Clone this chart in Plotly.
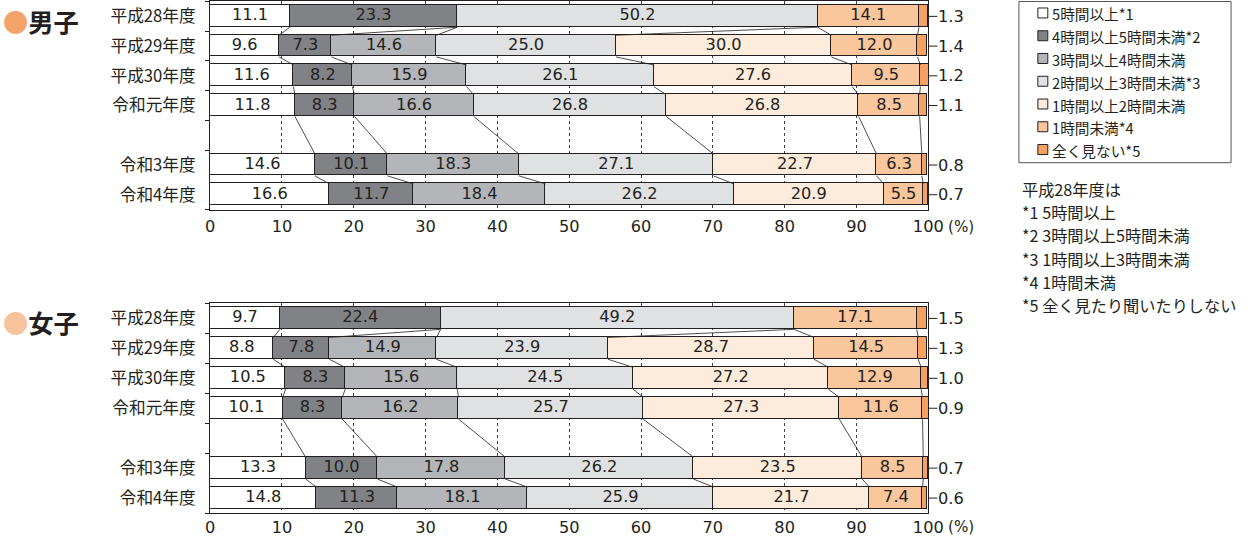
import plotly.graph_objects as go

W, H = 1248, 537          # target picture size
S = 1263 / 1248           # horizontal compensation for the capture scaling
FW, FH = 1263, 537        # figure size in CSS px

rows = ["平成28年度", "平成29年度", "平成30年度", "令和元年度", "", "令和3年度", "令和4年度"]
ticks_x = [0, 10, 20, 30, 40, 50, 60, 70, 80, 90, 100]

cat_names = ["5時間以上*1", "4時間以上5時間未満*2", "3時間以上4時間未満", "2時間以上3時間未満*3",
             "1時間以上2時間未満", "1時間未満*4", "全く見ない*5"]
cat_colors = ["#FFFFFF", "#818285", "#B4B5B8", "#E0E1E3", "#FDEBDB", "#FAC69C", "#F4A163"]

# 男子 (boys)
boys_5plus = [11.1, 9.6, 11.6, 11.8, None, 14.6, 16.6]
boys_4to5 = [23.3, 7.3, 8.2, 8.3, None, 10.1, 11.7]
boys_3to4 = [None, 14.6, 15.9, 16.6, None, 18.3, 18.4]
boys_2to3 = [50.2, 25.0, 26.1, 26.8, None, 27.1, 26.2]
boys_1to2 = [None, 30.0, 27.6, 26.8, None, 22.7, 20.9]
boys_lt1 = [14.1, 12.0, 9.5, 8.5, None, 6.3, 5.5]
boys_none = [1.3, 1.4, 1.2, 1.1, None, 0.8, 0.7]

# 女子 (girls)
girls_5plus = [9.7, 8.8, 10.5, 10.1, None, 13.3, 14.8]
girls_4to5 = [22.4, 7.8, 8.3, 8.3, None, 10.0, 11.3]
girls_3to4 = [None, 14.9, 15.6, 16.2, None, 17.8, 18.1]
girls_2to3 = [49.2, 23.9, 24.5, 25.7, None, 26.2, 25.9]
girls_1to2 = [None, 28.7, 27.2, 27.3, None, 23.5, 21.7]
girls_lt1 = [17.1, 14.5, 12.9, 11.6, None, 8.5, 7.4]
girls_none = [1.5, 1.3, 1.0, 0.9, None, 0.7, 0.6]

notes = ["平成28年度は", "*1 5時間以上", "*2 3時間以上5時間未満", "*3 1時間以上3時間未満",
         "*4 1時間未満", "*5 全く見たり聞いたりしない"]

boys = [boys_5plus, boys_4to5, boys_3to4, boys_2to3, boys_1to2, boys_lt1, boys_none]
girls = [girls_5plus, girls_4to5, girls_3to4, girls_2to3, girls_1to2, girls_lt1, girls_none]

INK = "#231F20"
NUMFONT = "DejaVu Sans"
JPFONT = "Noto Sans CJK JP"
BW = 0.73
ypos = list(range(len(rows)))


def s(v):
    return v * S


fig = go.Figure()


def add_group(series, xa, ya):
    n = len(rows)
    for k, vals in enumerate(series):
        fig.add_trace(go.Bar(
            x=vals, y=ypos, orientation="h", width=BW,
            marker=dict(color=cat_colors[k], line=dict(color=INK, width=1)),
            xaxis=xa, yaxis=ya, showlegend=False, hoverinfo="x",
        ))
    cums = []
    for i in range(n):
        if series[0][i] is None:
            cums.append(None)
            continue
        c, lst = 0.0, []
        for k in range(len(series)):
            v = series[k][i]
            start = c
            c += (v or 0)
            lst.append((start, c, v))
        cums.append(lst)
    tx, ty, tt = [], [], []
    for i in range(n):
        if cums[i] is None:
            continue
        for k in range(len(series) - 1):
            st, e, v = cums[i][k]
            if v is None:
                continue
            tx.append((st + e) / 2)
            ty.append(i)
            tt.append(f"{v:.1f}")
    fig.add_trace(go.Scatter(
        x=tx, y=ty, text=tt, mode="text", textposition="middle center",
        textfont=dict(family=NUMFONT, size=s(16), color=INK),
        xaxis=xa, yaxis=ya, showlegend=False, hoverinfo="skip", cliponaxis=False,
    ))
    present = [i for i in range(n) if cums[i] is not None]
    lx, ly = [], []
    for a, b in zip(present[:-1], present[1:]):
        for k in range(len(series) - 1):
            lx += [cums[a][k][1], cums[b][k][1], None]
            ly += [a + BW / 2, b - BW / 2, None]
    fig.add_trace(go.Scatter(
        x=lx, y=ly, mode="lines", line=dict(color=INK, width=0.8),
        xaxis=xa, yaxis=ya, showlegend=False, hoverinfo="skip",
    ))
    for i in range(n):
        v = series[-1][i]
        if v is None:
            continue
        fig.add_annotation(
            x=100, y=i, xref=xa, yref=ya, text=f"{v:.1f}", showarrow=True,
            arrowhead=0, arrowwidth=1, arrowcolor=INK, ax=s(9), ay=0, xanchor="left",
            font=dict(family=NUMFONT, size=s(16), color=INK), borderpad=0,
        )


add_group(boys, "x", "y")
add_group(girls, "x2", "y2")

xdom = [206 / W, 927 / W]
xcommon = dict(
    domain=xdom, range=[0, 100], tickvals=ticks_x, ticktext=[str(t) for t in ticks_x],
    showgrid=True, gridcolor="#444", gridwidth=1, griddash="3px,3px",
    showline=True, mirror=True, linecolor=INK, linewidth=1.2, zeroline=False,
    ticks="",
    tickfont=dict(family=NUMFONT, size=s(16), color=INK), fixedrange=True,
)
ycommon = dict(
    range=[6.5, -0.5], tickvals=ypos, ticktext=rows, ticks="",
    showgrid=False, showline=True, mirror=True, linecolor=INK, linewidth=1.2,
    zeroline=False, ticklabelstandoff=10,
    tickfont=dict(family=JPFONT, size=s(16.5), color=INK),
    minor=dict(ticks="outside", tickmode="array", tickvals=[-0.5, 0.5, 1.5, 2.5, 3.5, 4.5, 6.5],
               ticklen=4, tickcolor=INK, showgrid=False),
    fixedrange=True,
)

fig.update_layout(
    width=FW, height=FH, autosize=False, margin=dict(l=0, r=0, t=0, b=0),
    paper_bgcolor="white", plot_bgcolor="white", barmode="stack", bargap=0,
    showlegend=False,
    xaxis=dict(anchor="y", ticklabelstandoff=2, **xcommon),
    yaxis=dict(anchor="x", domain=[1 - 209 / H, 1 - 0.5 / H], **ycommon),
    xaxis2=dict(anchor="y2", ticklabelstandoff=-1, **xcommon),
    yaxis2=dict(anchor="x2", domain=[1 - 513 / H, 1 - 303 / H], **ycommon),
)


def px(xp):
    return xp / W


def py(yp):
    return 1 - yp / H


fig.add_annotation(x=px(-4), y=py(20), xref="paper", yref="paper", xanchor="left", yanchor="middle",
                   showarrow=False, text="<span style='color:#F4A46A'>●</span><b>男子</b>",
                   font=dict(family=JPFONT, size=s(25), color=INK))
fig.add_annotation(x=px(-4), y=py(322), xref="paper", yref="paper", xanchor="left", yanchor="middle",
                   showarrow=False, text="<span style='color:#F8C39C'>●</span><b>女子</b>",
                   font=dict(family=JPFONT, size=s(25), color=INK))

for yy in (226, 527):
    fig.add_annotation(x=px(945), y=py(yy), xref="paper", yref="paper", xanchor="left", yanchor="middle",
                       showarrow=False, text="(%)", font=dict(family=NUMFONT, size=s(15), color=INK))

fig.add_shape(type="rect", xref="paper", yref="paper", x0=px(1018), x1=px(1231), y0=py(162), y1=py(0.5),
              line=dict(color="#555", width=1), fillcolor="rgba(0,0,0,0)")
for k, name in enumerate(cat_names):
    yc = 12 + 22.8 * k
    fig.add_shape(type="rect", xref="paper", yref="paper", x0=px(1037), x1=px(1047),
                  y0=py(yc + 5), y1=py(yc - 5), line=dict(color=INK, width=1), fillcolor=cat_colors[k])
    fig.add_annotation(x=px(1049), y=py(yc + 1), xref="paper", yref="paper", xanchor="left", yanchor="middle",
                       showarrow=False, text=name, font=dict(family=JPFONT, size=s(14.5), color=INK))

for k, t in enumerate(notes):
    fig.add_annotation(x=px(1019), y=py(188 + 23.4 * k), xref="paper", yref="paper", xanchor="left",
                       yanchor="middle", showarrow=False, text=t,
                       font=dict(family=JPFONT, size=s(16), color=INK))

fig.write_html(
    "out.html",
    config={"displayModeBar": False, "responsive": False},
    post_script="document.documentElement.style.margin='0';document.body.style.margin='0';"
                "document.documentElement.style.overflow='hidden';document.body.style.overflow='hidden';",
)
